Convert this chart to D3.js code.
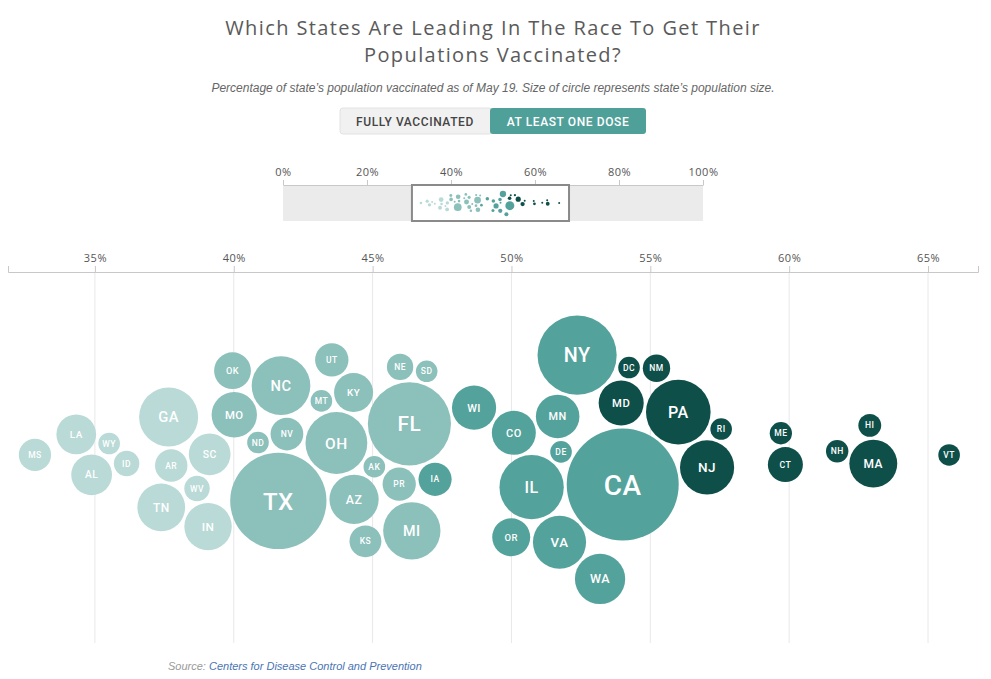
<!DOCTYPE html>
<html>
<head>
<meta charset="utf-8">
<script src="https://cdn.jsdelivr.net/npm/d3@7"></script>
<style>
  html, body { margin: 0; padding: 0; background: #fff; }
  svg { display: block; }
</style>
</head>
<body>
<svg id="chart" width="991" height="679"></svg>
<script>
// ---- data ----
const states = ["MS","LA","AL","WY","ID","TN","GA","AR","WV","SC","IN","ND","OK","MO","TX","NC","MT","NV","UT","OH","AK","KY","AZ","KS","NE","FL","PR","SD","IA","MI","WI","CO","VA","NY","MD","PA","DC","MN","OR","DE","CA","NJ","RI","IL","WA","NM","ME","CT","HI","NH","MA","VT"];
const pctOneDose = [32.84,34.35,34.86,35.54,36.12,37.45,37.66,37.73,38.71,39.10,39.57,40.90,40.22,40.18,41.65,41.73,42.91,42.52,43.71,43.53,44.24,44.10,44.06,44.86,46.12,46.26,45.97,46.73,47.19,46.29,48.60,50.65,52.12,52.41,54.24,55.68,54.17,51.33,50.22,51.37,53.92,56.87,57.45,51.08,52.81,54.78,59.71,59.86,62.91,61.76,63.02,65.76];
const populationM = [2.98,4.65,4.90,0.58,1.79,6.83,10.62,3.02,1.79,5.15,6.73,0.76,3.96,6.14,29.0,10.49,1.07,3.08,3.21,11.69,0.73,4.47,7.28,2.91,1.93,21.48,3.19,0.88,3.16,9.99,5.82,5.76,8.54,19.45,6.05,12.80,0.71,5.64,4.22,0.97,39.51,8.88,1.06,12.67,7.61,2.10,1.34,3.57,1.42,1.36,6.89,0.62];
const mainTicks = [35,40,45,50,55,60,65];
const miniTicks = [0,20,40,60,80,100];
const brushExtent = [30.7, 68.1];
const colorBreaks = [40,47,54];
const colorRange = ["#b9dad6","#8bc0bb","#54a29c","#0f4f4a"];
const buttonLabels = ["FULLY VACCINATED","AT LEAST ONE DOSE"];
const titleLines = ["Which States Are Leading In The Race To Get Their","Populations Vaccinated?"];
const subtitle = "Percentage of state’s population vaccinated as of May 19. Size of circle represents state’s population size.";

const svg = d3.select("#chart");

// ---- titles ----
svg.selectAll("text.title").data(titleLines).join("text")
  .attr("class","title")
  .attr("x", 493).attr("y", (d,i) => 35 + i*27)
  .attr("text-anchor","middle")
  .style("font-family","'Open Sans', sans-serif")
  .style("font-size","20px")
  .style("letter-spacing","1.4px")
  .style("fill","#5a5a5a")
  .text(d => d);

svg.append("text")
  .attr("x", 493).attr("y", 92)
  .attr("text-anchor","middle")
  .style("font-family","'Liberation Sans', Arial, sans-serif")
  .style("font-style","italic")
  .style("font-size","12px")
  .style("fill","#666")
  .text(subtitle);

// ---- buttons ----
const btn = svg.append("g");
btn.append("rect").attr("x",340).attr("y",108).attr("width",152).attr("height",26).attr("rx",3)
  .attr("fill","#f1f1f1").attr("stroke","#e2e2e2");
btn.append("rect").attr("x",490).attr("y",108).attr("width",156).attr("height",26).attr("rx",3)
  .attr("fill","#50a09a");
btn.selectAll("text").data(buttonLabels).join("text")
  .attr("x",(d,i)=> i===0 ? 415 : 568)
  .attr("y",126)
  .attr("text-anchor","middle")
  .style("font-family","Roboto, sans-serif")
  .style("font-weight","500")
  .style("font-size","12px")
  .style("letter-spacing","0.6px")
  .style("fill",(d,i)=> i===0 ? "#444" : "#fff")
  .text(d=>d);

// ---- scales ----
const x = d3.scaleLinear().domain([31.87, 66.8]).range([8, 978]);
const rScale = d3.scaleSqrt().domain([0, d3.max(populationM)]).range([0, 55]);
const color = d3.scaleThreshold().domain(colorBreaks).range(colorRange);
const cy = 455;

const nodes = states.map((s,i) => ({
  id: s, v: pctOneDose[i], pop: populationM[i],
  r: Math.max(10.8, rScale(populationM[i]) + 1),
  tx: x(pctOneDose[i])
}));
nodes.forEach((n,i) => { n.x = n.tx; n.y = cy + ((i % 3) - 1) * 8; });

const sim = d3.forceSimulation(nodes)
  .force("x", d3.forceX(d => d.tx).strength(0.9))
  .force("y", d3.forceY(cy).strength(0.07))
  .force("collide", d3.forceCollide(d => d.r + 1.5).iterations(4))
  .stop();
for (let i = 0; i < 400; i++) sim.tick();

// ---- main axis ----
const axisG = svg.append("g").attr("transform","translate(0,272)");
axisG.call(d3.axisTop(x).tickValues(mainTicks).tickFormat(d => d + "%").tickSize(6).tickSizeOuter(6).tickPadding(4));
axisG.select(".domain").attr("stroke","#c8c8c8");
axisG.selectAll(".tick line").attr("stroke","#c8c8c8");
axisG.selectAll(".tick text")
  .style("font-family","'Open Sans', sans-serif").style("font-size","11px")
  .style("letter-spacing","0.5px").style("fill","#555");

// grid
svg.append("g").selectAll("line").data(mainTicks).join("line")
  .attr("x1", d => x(d)).attr("x2", d => x(d))
  .attr("y1", 273).attr("y2", 643)
  .attr("stroke","#e8e8e8");

// ---- bubbles ----
const g = svg.append("g");
const node = g.selectAll("g.st").data(nodes).join("g").attr("class","st")
  .attr("transform", d => `translate(${d.x},${d.y})`);
node.append("circle").attr("r", d => d.r).attr("fill", d => color(d.v));
node.append("text")
  .attr("text-anchor","middle").attr("dy","0.36em")
  .style("font-family","Roboto, sans-serif")
  .style("font-weight","500")
  .style("font-size", d => Math.max(8.5, d.r * 0.5) + "px")
  .style("letter-spacing","0.5px")
  .style("fill","#fff")
  .text(d => d.id);

// ---- mini overview ----
const mx = d3.scaleLinear().domain([0,100]).range([283,703]);
const mini = svg.append("g");
mini.append("rect").attr("x",283).attr("y",185).attr("width",420).attr("height",36).attr("fill","#ebebeb");
const miniAxis = mini.append("g").attr("transform","translate(0,185)");
miniAxis.call(d3.axisTop(mx).tickValues(miniTicks).tickFormat(d => d + "%").tickSize(5).tickSizeOuter(0).tickPadding(4));
miniAxis.select(".domain").attr("stroke","#c8c8c8");
miniAxis.selectAll(".tick line").attr("stroke","#c8c8c8");
miniAxis.selectAll(".tick text")
  .style("font-family","'Open Sans', sans-serif").style("font-size","11px")
  .style("letter-spacing","0.5px").style("fill","#555");
mini.append("rect")
  .attr("x", mx(brushExtent[0])).attr("y",185)
  .attr("width", mx(brushExtent[1]) - mx(brushExtent[0])).attr("height",36)
  .attr("fill","#fff").attr("stroke","#8a8a8a").attr("stroke-width",2);
mini.selectAll("circle.m").data(nodes).join("circle").attr("class","m")
  .attr("cx", d => mx(x.invert(d.x)))
  .attr("cy", d => 203 + (d.y - cy) * 0.09)
  .attr("r", d => Math.max(1, d.r * 0.08))
  .attr("fill", d => color(d.v));

// ---- source ----
const src = svg.append("text").attr("x",168).attr("y",670)
  .style("font-family","'Liberation Sans', Arial, sans-serif")
  .style("font-style","italic").style("font-size","11px");
src.append("tspan").attr("fill","#999").text("Source: ");
src.append("tspan").attr("fill","#4a74b4").text("Centers for Disease Control and Prevention");
</script>
</body>
</html>
